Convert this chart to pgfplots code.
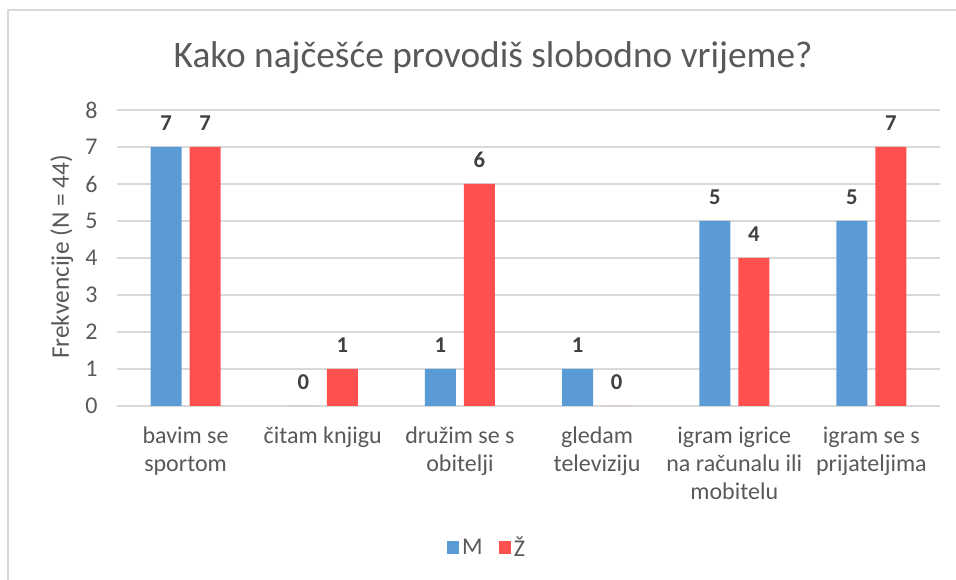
\documentclass[border=0pt]{standalone}
\usepackage{fontspec}
\setmainfont{Carlito}
\usepackage{pgfplots}
\pgfplotsset{compat=1.18}

\definecolor{mblue}{HTML}{5B9BD5}
\definecolor{zred}{HTML}{FF5050}
\definecolor{txt}{HTML}{595959}
\definecolor{lbl}{HTML}{404040}
\definecolor{gridc}{HTML}{D9D9D9}

\begin{document}
\begin{tikzpicture}
\begin{axis}[
  at={(0,0)}, anchor=south west,
  scale only axis,
  width=617.25pt, height=222pt,
  ybar=6pt, bar width=23.25pt,
  xmin=-0.5, xmax=5.5,
  ymin=0, ymax=8,
  ytick={0,1,...,8},
  xtick={0,...,5},
  xticklabels={bavim se\\sportom, čitam knjigu, družim se s\\obitelji, gledam\\televiziju, igram igrice\\na računalu ili\\mobitelu, igram se s\\prijateljima},
  axis line style={draw=none},
  major tick length=0pt,
  ymajorgrids, grid style={gridc, line width=1.1pt},
  /pgf/number format/assume math mode=true,
  tick label style={font=\fontsize{18}{21}\selectfont, text=txt},
  xticklabel style={align=center, yshift=-12pt},
  yticklabel style={xshift=-11pt},
  ylabel={Frekvencije (N = 44)},
  ylabel style={font=\fontsize{19}{22}\selectfont, text=txt, at={(axis description cs:-0.067,0.503)}, anchor=center},
  title={Kako najčešće provodiš slobodno vrijeme?},
  title style={font=\fontsize{28}{32}\selectfont, text=txt, at={(axis description cs:0.457,1.149)}, anchor=center},
  nodes near coords,
  every node near coord/.append style={font=\fontsize{17}{20}\selectfont\bfseries, text=lbl, anchor=center, yshift=18pt},
  legend columns=2,
  legend style={draw=none, fill=none, at={(axis description cs:0.45,-0.48)}, anchor=center,
    font=\fontsize{18}{21}\selectfont, text=txt,
    /tikz/every even column/.append style={column sep=10pt}},
  legend image code/.code={\fill[#1] (0pt,-4.5pt) rectangle (9.5pt,5pt);},
]
\addplot[fill=mblue, draw=none] coordinates {(0,7) (1,0) (2,1) (3,1) (4,5) (5,5)};
\addplot[fill=zred, draw=none] coordinates {(0,7) (1,1) (2,6) (3,0) (4,4) (5,7)};
\legend{M, Ž}
\end{axis}
\path[use as bounding box] (-87.75pt,-130.5pt) rectangle (629.25pt,304.5pt);
\draw[gridc, line width=1.5pt] (-81.75pt,-130.5pt) -- (-81.75pt,297pt) -- (629.25pt,297pt);
\end{tikzpicture}
\end{document}
